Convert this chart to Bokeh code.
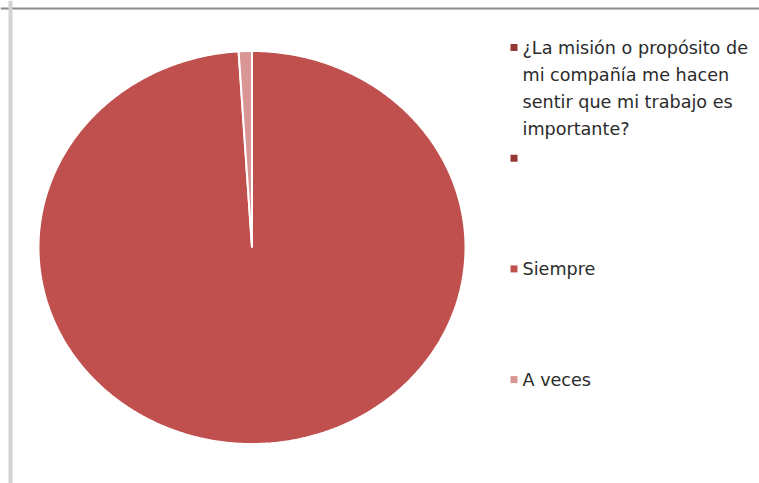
import textwrap
import numpy as np
from bokeh.plotting import figure
from bokeh.models import ColumnDataSource, Range1d, Span
from bokeh.core.properties import value
from bokeh.embed import file_html
from bokeh.resources import INLINE

# ---- data ----
categories = [
    "¿La misión o propósito de mi compañía me hacen sentir que mi trabajo es importante?",
    "",
    "Siempre",
    "A veces",
]
values = [0, 0, 99, 1]
colors = ["#953735", "#953735", "#C0504D", "#D99694"]

# ---- layout (screen-pixel coordinates) ----
W, H = 759, 483
p = figure(width=W, height=H, output_backend="svg", toolbar_location=None,
           x_range=Range1d(0, W), y_range=Range1d(H, 0),
           x_axis_location=None, y_axis_location=None, min_border=0,
           background_fill_color="white", border_fill_color="white")
p.outline_line_color = None
p.grid.visible = False

# frame edges visible in the reference
p.add_layout(Span(location=8, dimension="width", line_color="#8a8a8a", line_width=2))
p.add_layout(Span(location=10, dimension="height", line_color="#d2d2d2", line_width=4))

# ---- pie (elliptical, clockwise from 12 o'clock) ----
cx, cy, rx, ry = 251.5, 247, 213.5, 196.5
total = float(sum(values))
cum = np.concatenate([[0], np.cumsum(values)]) / total
xs, ys, fills = [], [], []
for i, v in enumerate(values):
    if v <= 0:
        continue
    a0 = np.pi / 2 - 2 * np.pi * cum[i]
    a1 = np.pi / 2 - 2 * np.pi * cum[i + 1]
    n = max(4, int(abs(a1 - a0) / (2 * np.pi) * 720))
    t = np.linspace(a0, a1, n)
    xs.append(np.concatenate([[cx], cx + rx * np.cos(t), [cx]]).tolist())
    ys.append(np.concatenate([[cy], cy - ry * np.sin(t), [cy]]).tolist())
    fills.append(colors[i])
p.patches(xs="xs", ys="ys", fill_color="fc", line_color="white", line_width=2,
          source=ColumnDataSource(dict(xs=xs, ys=ys, fc=fills)))

# ---- legend ----
leg_x, leg_y0, leg_step, line_h = 513.5, 47, 110.7, 27
mx, my, mc = [], [], []
tx, ty, tt = [], [], []
for i, (cat, col) in enumerate(zip(categories, colors)):
    y = leg_y0 + i * leg_step
    mx.append(leg_x); my.append(y); mc.append(col)
    for j, line in enumerate(textwrap.wrap(cat, 25)):
        tx.append(522); ty.append(y + j * line_h); tt.append(line)
p.scatter(x=mx, y=my, marker="square", size=7, fill_color=mc, line_color=None)
p.text(x=tx, y=ty, text=tt, text_font=value("DejaVu Sans"), text_font_size="17.6px",
       text_color="#2b2b2b", text_baseline="middle", text_align="left")

open("out.html", "w").write(file_html(p, INLINE))
